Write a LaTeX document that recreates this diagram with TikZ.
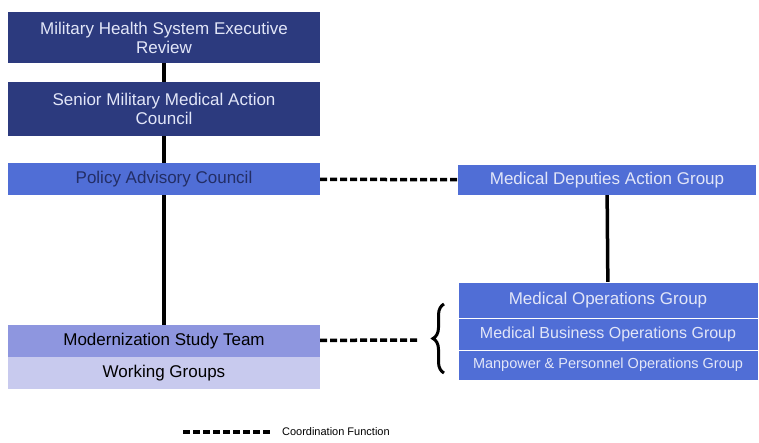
\documentclass[tikz,border=0pt]{standalone}
\usepackage{fontspec}
\setmainfont{Liberation Sans}
\usetikzlibrary{decorations.pathreplacing}

\definecolor{navy}{RGB}{44,58,126}
\definecolor{midblue}{RGB}{80,110,214}
\definecolor{lav}{RGB}{142,150,223}
\definecolor{palelav}{RGB}{200,202,238}
\definecolor{paletext}{RGB}{226,230,248}

\begin{document}
\begin{tikzpicture}[auto, x=1pt, y=-1pt,
  box/.style={rectangle, inner sep=0pt, align=center, font=\fontsize{17}{19}\selectfont},
  link/.style={line width=3.5pt},
  coord/.style={line width=3.5pt, dash pattern=on 7pt off 3pt}]
\useasboundingbox (0,0) rectangle (759,443);

\begin{scope}[every node/.style={box}]
\node[fill=navy, text=paletext, minimum width=312, minimum height=51](exec) at (164,37.5) {Military Health System Executive\\Review};
\node[fill=navy, text=paletext, minimum width=312, minimum height=54](smmac) at (164,109) {Senior Military Medical Action\\Council};
\node[fill=midblue, text=navy!80!black, minimum width=312, minimum height=32](pac) at (164,179) {Policy Advisory Council};
\node[fill=midblue, text=paletext, minimum width=298, minimum height=30](mdag) at (607,180) {Medical Deputies Action Group};
\node[fill=lav, text=black, minimum width=312, minimum height=32](mst) at (164,341) {Modernization Study Team};
\node[fill=palelav, text=black, minimum width=312, minimum height=32](wg) at (164,373) {Working Groups};
\node[fill=midblue, text=paletext, draw=white, minimum width=300, minimum height=36](mog) at (608,300) {Medical Operations Group};
\node[fill=midblue, text=paletext, draw=white, minimum width=300, minimum height=32, font=\fontsize{16}{18}\selectfont](mbog) at (608,334) {Medical Business Operations Group};
\node[fill=midblue, text=paletext, draw=white, minimum width=300, minimum height=30, font=\fontsize{14.5}{16}\selectfont](mpog) at (608,365) {Manpower \& Personnel Operations Group};
\end{scope}

\draw[link] (exec) -- (smmac);
\draw[link] (smmac) -- (pac);
\draw[link] (pac) -- (mst);
\draw[link] (mdag) -- (mog);

\draw[coord] (pac) -- (mdag);
\coordinate (brtip) at (419,340);
\draw[coord] (mst) -- (brtip);
\draw[line width=3pt, decorate, decoration={brace, amplitude=11pt}] (444,373) -- (444,304);

% legend
\coordinate (lega) at (183,432);
\coordinate (legb) at (273,432);
\draw[coord] (lega) -- (legb) node[right=4pt, font=\fontsize{11}{12}\selectfont, text=black] (legtext) {Coordination Function};
\end{tikzpicture}
\end{document}
